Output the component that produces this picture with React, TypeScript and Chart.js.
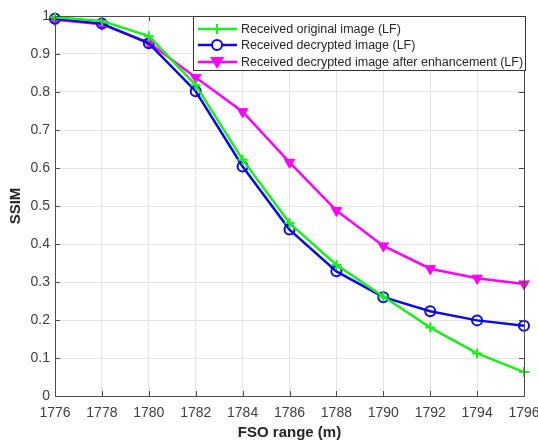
import React, { useEffect, useRef } from "react";
import { Chart, registerables } from "chart.js";
Chart.register(...registerables);

const ranges = [1776, 1778, 1780, 1782, 1784, 1786, 1788, 1790, 1792, 1794, 1796];
const originalLF = [0.997, 0.987, 0.947, 0.818, 0.622, 0.455, 0.345, 0.262, 0.18, 0.112, 0.063];
const decryptedLF = [0.993, 0.98, 0.928, 0.802, 0.604, 0.438, 0.328, 0.26, 0.223, 0.199, 0.185];
const enhancedLF = [0.99, 0.978, 0.93, 0.838, 0.748, 0.615, 0.488, 0.395, 0.335, 0.31, 0.295];
const seriesNames = [
  "Received original image (LF)",
  "Received decrypted image (LF)",
  "Received decrypted image after enhancement (LF)",
];

const FONT = "'Liberation Sans', Arial, sans-serif";
const GREEN = "#19f019";
const BLUE = "#0a0ae6";
const MAGENTA = "#ff00ff";

const boxPlugin = {
  id: "matlabBox",
  afterDatasetsDraw(chart: any) {
    const { ctx, chartArea } = chart;
    const { left, right, top, bottom } = chartArea;
    const xs = chart.scales.x;
    const ys = chart.scales.y;
    ctx.save();
    ctx.strokeStyle = "#4d4d4d";
    ctx.lineWidth = 1;
    ctx.beginPath();
    xs.ticks.forEach((t: any) => {
      const px = Math.round(xs.getPixelForValue(t.value)) + 0.5;
      ctx.moveTo(px, bottom);
      ctx.lineTo(px, bottom - 5);
      ctx.moveTo(px, top);
      ctx.lineTo(px, top + 5);
    });
    ys.ticks.forEach((t: any) => {
      const py = Math.round(ys.getPixelForValue(t.value)) + 0.5;
      ctx.moveTo(left, py);
      ctx.lineTo(left + 5, py);
      ctx.moveTo(right, py);
      ctx.lineTo(right - 5, py);
    });
    ctx.stroke();
    ctx.strokeRect(Math.round(left) + 0.5, Math.round(top) + 0.5, Math.round(right - left), Math.round(bottom - top));

    // legend
    const lx = 193, ly = 16, lw = 332, lh = 54;
    ctx.fillStyle = "#ffffff";
    ctx.fillRect(lx, ly, lw, lh);
    ctx.strokeStyle = "#333333";
    ctx.strokeRect(lx + 0.5, ly + 0.5, lw, lh);
    const colors = [GREEN, BLUE, MAGENTA];
    const rows = [29, 45, 62];
    rows.forEach((ry, i) => {
      ctx.strokeStyle = colors[i];
      ctx.lineWidth = 2.5;
      ctx.beginPath();
      ctx.moveTo(198, ry);
      ctx.lineTo(237, ry);
      ctx.stroke();
      const mx = 217;
      if (i === 0) {
        ctx.lineWidth = 2;
        ctx.beginPath();
        ctx.moveTo(mx - 5, ry);
        ctx.lineTo(mx + 5, ry);
        ctx.moveTo(mx, ry - 5);
        ctx.lineTo(mx, ry + 5);
        ctx.stroke();
      } else if (i === 1) {
        ctx.lineWidth = 2;
        ctx.fillStyle = "#ffffff";
        ctx.beginPath();
        ctx.arc(mx, ry, 5, 0, Math.PI * 2);
        ctx.fill();
        ctx.stroke();
      } else {
        ctx.fillStyle = MAGENTA;
        ctx.beginPath();
        ctx.moveTo(mx - 7, ry - 5);
        ctx.lineTo(mx + 7, ry - 5);
        ctx.lineTo(mx, ry + 7);
        ctx.closePath();
        ctx.fill();
      }
      ctx.fillStyle = "#262626";
      ctx.font = `12.5px ${FONT}`;
      ctx.textBaseline = "middle";
      ctx.textAlign = "left";
      ctx.fillText(seriesNames[i], 241, ry + 0.5);
    });
    ctx.restore();
  },
};

export default function App() {
  const ref = useRef<HTMLCanvasElement | null>(null);
  useEffect(() => {
    document.body.style.margin = "0";
    const canvas = ref.current;
    if (!canvas) return;
    const mk = (vals: number[]) => vals.map((y, i) => ({ x: ranges[i], y }));
    const chart = new Chart(canvas, {
      type: "line",
      data: {
        datasets: [
          {
            label: seriesNames[0],
            data: mk(originalLF),
            borderColor: GREEN,
            backgroundColor: GREEN,
            borderWidth: 2.5,
            pointStyle: "cross",
            pointRadius: 5,
            pointBorderWidth: 2,
            pointBorderColor: GREEN,
            clip: false,
          },
          {
            label: seriesNames[1],
            data: mk(decryptedLF),
            borderColor: BLUE,
            backgroundColor: "rgba(255,255,255,0)",
            borderWidth: 2.5,
            pointStyle: "circle",
            pointRadius: 5,
            pointBorderWidth: 2,
            pointBorderColor: BLUE,
            pointBackgroundColor: "rgba(255,255,255,0)",
            clip: false,
          },
          {
            label: seriesNames[2],
            data: mk(enhancedLF),
            borderColor: MAGENTA,
            backgroundColor: MAGENTA,
            borderWidth: 2.5,
            pointStyle: "triangle",
            pointRotation: 180,
            pointRadius: 6,
            pointBorderWidth: 1,
            pointBackgroundColor: MAGENTA,
            pointBorderColor: MAGENTA,
            clip: false,
          },
        ] as any,
      },
      options: {
        animation: false,
        responsive: false,
        devicePixelRatio: 1,
        layout: { padding: { top: 16, right: 14, left: 0, bottom: 0 } },
        plugins: { legend: { display: false }, tooltip: { enabled: false } },
        scales: {
          x: {
            type: "linear",
            min: 1776,
            max: 1796,
            ticks: {
              stepSize: 2,
              autoSkip: false,
              maxRotation: 0,
              padding: 9,
              color: "#404040",
              font: { family: FONT, size: 14 },
              callback: (v: any) => String(v),
            },
            grid: { color: "#e5e5e5", drawTicks: false },
            border: { display: false },
            title: {
              display: true,
              text: "FSO range (m)",
              color: "#262626",
              font: { family: FONT, size: 15, weight: "bold" },
              padding: { top: 0, bottom: 0 },
            },
            afterFit: (s: any) => {
              s.height = 46;
              s.paddingLeft = 0;
              s.paddingRight = 0;
            },
          },
          y: {
            min: 0,
            max: 1,
            ticks: {
              stepSize: 0.1,
              padding: 5,
              color: "#404040",
              font: { family: FONT, size: 14 },
              callback: (v: any) => String(Math.round(Number(v) * 10) / 10),
            },
            grid: { color: "#e5e5e5", drawTicks: false },
            border: { display: false },
            title: {
              display: true,
              text: "SSIM",
              color: "#262626",
              font: { family: FONT, size: 15, weight: "bold" },
              padding: { top: 7, bottom: 0 },
            },
            afterFit: (s: any) => {
              s.width = 55;
              s.paddingTop = 0;
              s.paddingBottom = 0;
            },
          },
        },
      } as any,
      plugins: [boxPlugin],
    });
    return () => chart.destroy();
  }, []);
  return (
    <div style={{ width: 538, height: 442 }}>
      <canvas ref={ref} width={538} height={442} style={{ display: "block", width: 538, height: 442 }} />
    </div>
  );
}
